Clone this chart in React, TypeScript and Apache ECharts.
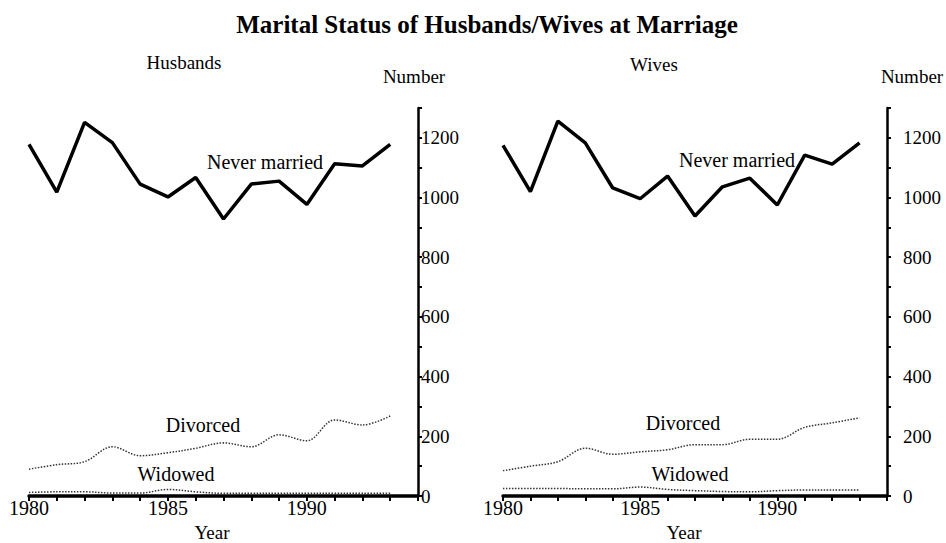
import React, { useEffect, useRef } from "react";
import * as echarts from "echarts";

const years = [1980, 1981, 1982, 1983, 1984, 1985, 1986, 1987, 1988, 1989, 1990, 1991, 1992, 1993];

const husbandsNeverMarried = [1178, 1018, 1252, 1184, 1045, 1002, 1067, 928, 1045, 1055, 977, 1113, 1106, 1178];
const husbandsDivorced = [90, 105, 115, 165, 135, 145, 160, 178, 165, 205, 185, 255, 238, 268];
const husbandsWidowed = [12, 14, 14, 10, 10, 22, 14, 9, 9, 9, 9, 9, 9, 9];

const wivesNeverMarried = [1175, 1020, 1256, 1183, 1032, 996, 1072, 938, 1036, 1065, 975, 1142, 1112, 1183];
const wivesDivorced = [85, 100, 115, 160, 140, 148, 155, 172, 172, 190, 190, 230, 245, 262];
const wivesWidowed = [25, 25, 25, 24, 24, 30, 22, 18, 15, 14, 18, 20, 20, 20];

const xLabels = [1980, 1985, 1990];
const yLabels = [0, 200, 400, 600, 800, 1000, 1200];

const FONT = "Liberation Serif";

function pairs(vals: number[]) {
  return years.map((y, i) => [y, vals[i]]);
}

export default function App() {
  const ref = useRef<HTMLDivElement>(null);
  useEffect(() => {
    if (!ref.current) return;
    const chart = echarts.init(ref.current, undefined, { renderer: "svg" });

    const xAxisBase = (gridIndex: number) => ({
      type: "value" as const,
      gridIndex,
      min: 1980,
      max: 1994,
      interval: 1,
      axisLine: { onZero: false, lineStyle: { color: "#000", width: 3.5 } },
      axisTick: { show: true, length: 5, lineStyle: { color: "#000", width: 2 } },
      splitLine: { show: false },
      axisLabel: {
        color: "#000",
        fontFamily: FONT,
        fontSize: 20,
        margin: 2,
        formatter: (v: number) => (xLabels.includes(v) ? String(v) : ""),
      },
    });

    const yAxisBase = (gridIndex: number, margin: number) => ({
      type: "value" as const,
      gridIndex,
      position: "right" as const,
      min: 0,
      max: 1300,
      interval: 100,
      axisLine: { show: true, lineStyle: { color: "#000", width: 2.5 } },
      axisTick: { show: true, length: 4, lineStyle: { color: "#000", width: 2 } },
      splitLine: { show: false },
      axisLabel: {
        color: "#000",
        fontFamily: FONT,
        fontSize: 19,
        margin,
        formatter: (v: number) => (yLabels.includes(v) ? String(v) : ""),
      },
    });

    const solid = { color: "#000", width: 3.5, type: "solid" as const };
    const dotted = { color: "#333", width: 1.5, type: "dotted" as const };

    const mk = (name: string, vals: number[], idx: number, style: any, smooth: boolean) => ({
      name,
      type: "line" as const,
      xAxisIndex: idx,
      yAxisIndex: idx,
      data: pairs(vals),
      showSymbol: false,
      symbol: "none",
      smooth: smooth ? 0.35 : false,
      lineStyle: style,
    });

    const txt = (x: number, y: number, text: string, size: number, extra: any = {}) => ({
      type: "text",
      x,
      y,
      style: {
        text,
        fill: "#000",
        font: `${extra.weight || "normal"} ${size}px "${FONT}"`,
        textAlign: extra.align || "center",
        textVerticalAlign: "middle",
      },
    });

    chart.setOption({
      animation: false,
      backgroundColor: "#fff",
      grid: [
        { left: 29, right: 528, top: 108, bottom: 47 },
        { left: 503, right: 59, top: 108, bottom: 47 },
      ],
      xAxis: [xAxisBase(0), xAxisBase(1)],
      yAxis: [yAxisBase(0, 3), yAxisBase(1, 16)],
      series: [
        mk("Husbands Never married", husbandsNeverMarried, 0, solid, false),
        mk("Husbands Divorced", husbandsDivorced, 0, dotted, true),
        mk("Husbands Widowed", husbandsWidowed, 0, dotted, true),
        mk("Wives Never married", wivesNeverMarried, 1, solid, false),
        mk("Wives Divorced", wivesDivorced, 1, dotted, true),
        mk("Wives Widowed", wivesWidowed, 1, dotted, true),
      ],
      graphic: [
        txt(487, 24, "Marital Status of Husbands/Wives at Marriage", 25, { weight: "bold" }),
        txt(184, 62, "Husbands", 19),
        txt(414, 76, "Number", 19),
        txt(654, 64, "Wives", 19),
        txt(912, 76, "Number", 19),
        txt(265, 162, "Never married", 20),
        txt(737, 160, "Never married", 20),
        txt(203, 425, "Divorced", 20),
        txt(683, 423, "Divorced", 20),
        txt(176, 474, "Widowed", 20),
        txt(690, 474, "Widowed", 20),
        txt(212, 532, "Year", 19),
        txt(684, 532, "Year", 19),
      ],
    });
    return () => chart.dispose();
  }, []);
  return (
    <div
      ref={ref}
      style={{ position: "fixed", left: 0, top: 0, width: 946, height: 543, background: "#fff" }}
    />
  );
}
